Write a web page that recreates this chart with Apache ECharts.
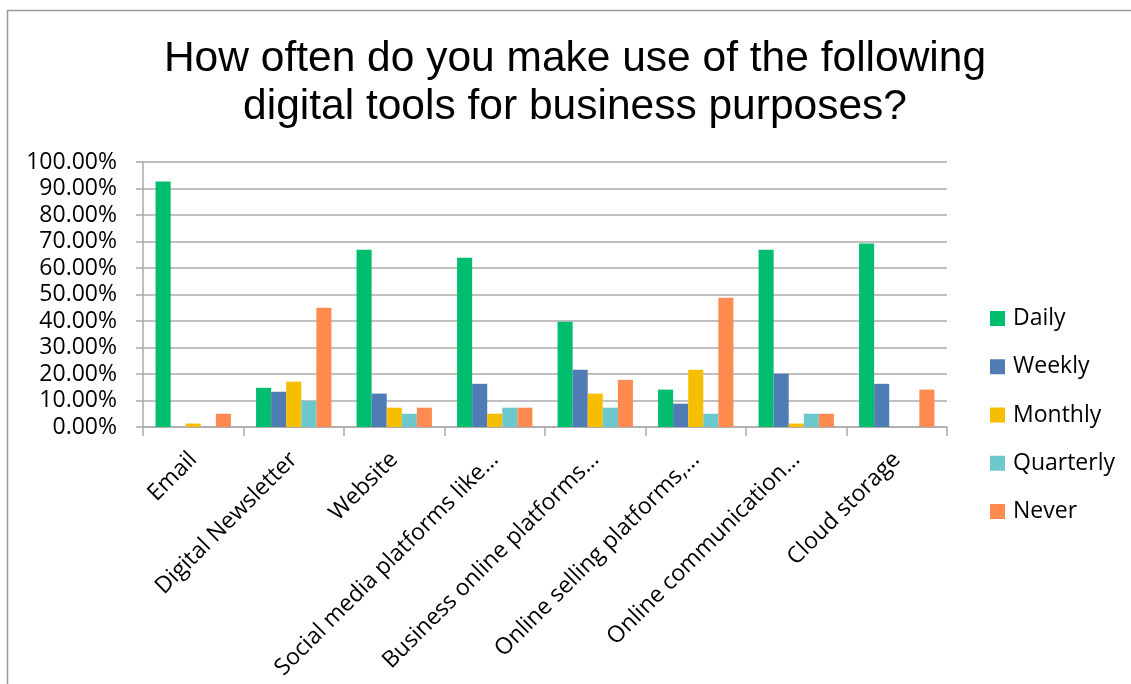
<!DOCTYPE html>
<html>
<head>
<meta charset="utf-8">
<title>Digital tools for business purposes</title>
<script src="https://cdn.jsdelivr.net/npm/echarts@6/dist/echarts.min.js"></script>
<style>
  html, body { margin: 0; padding: 0; background: #ffffff; }
  #chart { width: 1131px; height: 684px; }
</style>
</head>
<body>
<div id="chart"></div>
<script>
// Survey answers: share of respondents (%) per tool and frequency
const categories = [
  'Email',
  'Digital Newsletter',
  'Website',
  'Social media platforms like…',
  'Business online platforms…',
  'Online selling platforms,…',
  'Online communication…',
  'Cloud storage'
];
const daily     = [92.6, 14.8, 66.9, 63.9, 39.7, 14.1, 66.9, 69.2];
const weekly    = [0,    13.3, 12.6, 16.3, 21.6,  8.8, 20.1, 16.3];
const monthly   = [1.3,  17.1,  7.3,  5.0, 12.6, 21.6,  1.3,  0];
const quarterly = [0,     9.8,  5.0,  7.3,  7.3,  5.0,  5.0,  0];
const never     = [5.0,  45.0,  7.3,  7.3, 17.8, 48.8,  5.0, 14.1];

const seriesNames = ['Daily', 'Weekly', 'Monthly', 'Quarterly', 'Never'];
const seriesValues = [daily, weekly, monthly, quarterly, never];
const seriesColors = ['#00BE6E', '#4F7CB5', '#F7BE00', '#6DC8CD', '#FF8B50'];

const yTicks = { min: 0, max: 100, step: 10 };

const labelFont = '"Open Sans", "Noto Sans", sans-serif';
const labelSize = 23;
const gridColor = '#ababab';

const chart = echarts.init(document.getElementById('chart'), null, { renderer: 'canvas' });

chart.setOption({
  backgroundColor: '#ffffff',
  animation: false,
  title: {
    text: 'How often do you make use of the following\ndigital tools for business purposes?',
    left: 575,
    top: 35,
    padding: 0,
    textAlign: 'center',
    textStyle: {
      fontFamily: '"Liberation Sans", Arial, sans-serif',
      fontSize: 42.5,
      fontWeight: 'normal',
      lineHeight: 48,
      color: '#000000'
    }
  },
  graphic: [{
    type: 'rect',
    silent: true,
    shape: { x: 7.5, y: 10.5, width: 1300, height: 900 },
    style: { fill: 'none', stroke: '#9a9a9a', lineWidth: 1.5 }
  }],
  legend: {
    orient: 'vertical',
    left: 990,
    top: 307,
    padding: 0,
    itemWidth: 15,
    itemHeight: 15,
    itemGap: 25.25,
    icon: 'rect',
    data: seriesNames,
    textStyle: {
      fontFamily: labelFont,
      fontSize: labelSize,
      lineHeight: 20,
      color: '#000000',
      padding: [0, 0, 0, 3]
    }
  },
  grid: {
    left: 143,
    right: 184,
    top: 162,
    bottom: 257,
    containLabel: false
  },
  xAxis: {
    type: 'category',
    data: categories,
    axisLine: { show: true, lineStyle: { color: gridColor, width: 1.5 } },
    axisTick: { show: true, length: 9, lineStyle: { color: gridColor, width: 1.5 } },
    axisLabel: {
      interval: 0,
      rotate: 45,
      margin: 29,
      fontFamily: labelFont,
      fontSize: labelSize,
      color: '#000000'
    }
  },
  yAxis: {
    type: 'value',
    min: yTicks.min,
    max: yTicks.max,
    interval: yTicks.step,
    axisLine: { show: true, lineStyle: { color: gridColor, width: 1.5 } },
    axisTick: { show: true, length: 7, lineStyle: { color: gridColor, width: 1.5 } },
    splitLine: { show: true, lineStyle: { color: gridColor, width: 1.5 } },
    axisLabel: {
      margin: 26,
      fontFamily: labelFont,
      fontSize: labelSize,
      color: '#000000',
      formatter: v => v.toFixed(2) + '%'
    }
  },
  series: seriesNames.map((name, i) => ({
    name: name,
    type: 'bar',
    data: seriesValues[i],
    barGap: '0%',
    barCategoryGap: '25%',
    itemStyle: { color: seriesColors[i] }
  }))
});
</script>
</body>
</html>
